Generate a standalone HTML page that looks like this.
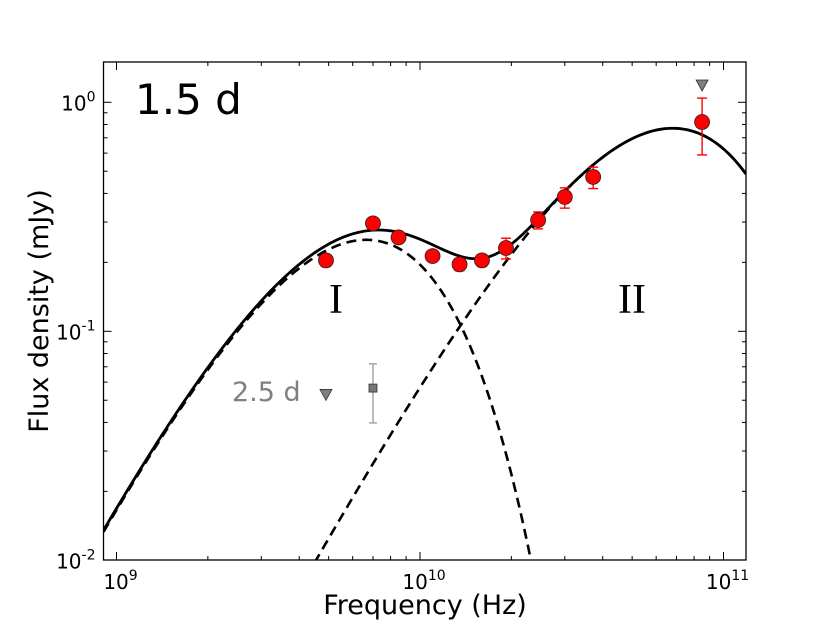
<!DOCTYPE html>
<html><head><meta charset="utf-8">
<style>
html,body{margin:0;padding:0;background:#fff;width:830px;height:623px;overflow:hidden;position:relative;}
svg{display:block;font-family:"DejaVu Sans","Liberation Sans",sans-serif;}
</style></head>
<body>
<svg id="chart" style="position:absolute;left:0;top:0" width="830" height="623" viewBox="0 0 830 623" xmlns="http://www.w3.org/2000/svg">
<rect x="0" y="0" width="830" height="623" fill="#fff"/>
<g id="plot"></g>
</svg>
<script>
// ---- data (frequency in GHz, flux in mJy) ----
const freqs = [4.9, 7.0, 8.5, 11.0, 13.5, 16.0, 19.2, 24.5, 30.0, 37.2, 85];
const fluxes = [0.204, 0.296, 0.257, 0.213, 0.196, 0.204, 0.231, 0.306, 0.386, 0.472, 0.82];
const errLo = [0.012, 0.010, 0.010, 0.010, 0.012, 0.012, 0.024, 0.026, 0.041, 0.052, 0.231];
const errHi = [0.012, 0.010, 0.010, 0.010, 0.012, 0.012, 0.024, 0.026, 0.037, 0.049, 0.223];
const limFreqs = [85];
const limFluxes = [1.19];
const laterLimFreqs = [4.9];
const laterLimFluxes = [0.053];
const laterFreqs = [7.0];
const laterFluxes = [0.0565];
const laterErrLo = [0.0167];
const laterErrHi = [0.0156];
const xTickExps = [9, 10, 11];
const yTickExps = [0, -1, -2];
// model component parameters: lnA, alpha, k, beta, nu0 (GHz)
const compI = [2.278, 2.6, 3.91, 1.0, 10];
const compII = [2.189, 2.45, 2.45, 1.0, 68];

const L = 103.5, R = 746, T = 62, B = 560;
const xDec = 303.5, x1e9 = 116.5;
const yDec = 229, y1 = 102.3;
function xs(gz){ return x1e9 + (Math.log10(gz*1e9) - 9) * xDec; }
function ys(f){ return y1 - Math.log10(f) * yDec; }
function comp(p, gz){ const u = gz / p[4]; return Math.exp(p[0] + p[1]*Math.log(u) - p[2]*Math.pow(u, p[3])); }

const NS = "http://www.w3.org/2000/svg";
const g = document.getElementById('plot');
function mk(tag, attrs, parent){ const e = document.createElementNS(NS, tag); for (const k in attrs) e.setAttribute(k, attrs[k]); (parent||g).appendChild(e); return e; }

const defs = mk('defs', {});
const cp = mk('clipPath', {id:'clip'}, defs);
mk('rect', {x:L, y:T, width:R-L, height:B-T}, cp);

const fMin = Math.pow(10, (L - x1e9)/xDec), fMax = Math.pow(10, (R - x1e9)/xDec);
function curvePath(fn){
  let d = '';
  for (let i = 0; i <= 400; i++) {
    const lg = Math.log10(fMin) + (Math.log10(fMax) - Math.log10(fMin)) * i / 400;
    const gz = Math.pow(10, lg);
    let v = fn(gz); if (v < 1e-4) v = 1e-4;
    d += (i ? 'L' : 'M') + xs(gz).toFixed(2) + ',' + ys(v).toFixed(2);
  }
  return d;
}
const cg = mk('g', {'clip-path':'url(#clip)'});
let p;
p = mk('path', {d: curvePath(gz => comp(compI, gz)), fill:'none', stroke:'#000', 'stroke-width':2.6, 'stroke-dasharray':'10,6'}, cg);


p = mk('path', {d: curvePath(gz => comp(compII, gz)), fill:'none', stroke:'#000', 'stroke-width':2.6, 'stroke-dasharray':'10,6'}, cg);


p = mk('path', {d: curvePath(gz => comp(compI, gz) + comp(compII, gz)), fill:'none', stroke:'#000', 'stroke-width':2.8}, cg);



for (let i = 0; i < laterFreqs.length; i++) {
  const x = xs(laterFreqs[i]);
  const eb = mk('g', {});
  
  
  const yt = ys(laterFluxes[i] + laterErrHi[i]), yb = ys(laterFluxes[i] - laterErrLo[i]);
  mk('line', {x1:x, x2:x, y1:yt, y2:yb, stroke:'#999', 'stroke-width':1.3}, eb);
  mk('line', {x1:x-4, x2:x+4, y1:yt, y2:yt, stroke:'#999', 'stroke-width':1.3}, eb);
  mk('line', {x1:x-4, x2:x+4, y1:yb, y2:yb, stroke:'#999', 'stroke-width':1.3}, eb);
  mk('rect', {x:x-4, y:ys(laterFluxes[i])-4, width:8, height:8, fill:'#777', stroke:'#333', 'stroke-width':0.8}, eb);
}
function tri(x, y, parent){ return mk('path', {d:`M${x-6},${y-5}L${x+6},${y-5}L${x},${y+6}Z`, fill:'#808080', stroke:'#333', 'stroke-width':0.8}, parent); }
for (let i = 0; i < laterLimFreqs.length; i++) {
  const t = tri(xs(laterLimFreqs[i]), ys(laterLimFluxes[i]));
  
  
}
for (let i = 0; i < limFreqs.length; i++) {
  const t = tri(xs(limFreqs[i]), ys(limFluxes[i]));
  
  
}
for (let i = 0; i < freqs.length; i++) {
  const x = xs(freqs[i]);
  const pg = mk('g', {});
  
  
  const yt = ys(fluxes[i] + errHi[i]), yb = ys(fluxes[i] - errLo[i]);
  mk('line', {x1:x, x2:x, y1:yt, y2:yb, stroke:'#f00', 'stroke-width':1.4}, pg);
  mk('line', {x1:x-5, x2:x+5, y1:yt, y2:yt, stroke:'#f00', 'stroke-width':1.4}, pg);
  mk('line', {x1:x-5, x2:x+5, y1:yb, y2:yb, stroke:'#f00', 'stroke-width':1.4}, pg);
  mk('circle', {cx:x, cy:ys(fluxes[i]), r:7.5, fill:'#f00', stroke:'#222', 'stroke-width':0.8}, pg);
}

const fr = mk('rect', {x:L, y:T, width:R-L, height:B-T, fill:'none', stroke:'#000', 'stroke-width':1.3});



for (let e = 8; e <= 11; e++) {
  for (let m = 1; m <= 9; m++) {
    const x = x1e9 + (e - 9 + Math.log10(m)) * xDec;
    if (x < L || x > R) continue;
    const len = m === 1 ? 8 : 4;
    mk('line', {x1:x, x2:x, y1:B, y2:B-len, stroke:'#000', 'stroke-width':1});
    mk('line', {x1:x, x2:x, y1:T, y2:T+len, stroke:'#000', 'stroke-width':1});
  }
}
for (let e = -3; e <= 0; e++) {
  for (let m = 1; m <= 9; m++) {
    const y = y1 - (e + Math.log10(m)) * yDec;
    if (y < T || y > B) continue;
    const len = m === 1 ? 8 : 4;
    mk('line', {x1:L, x2:L+len, y1:y, y2:y, stroke:'#000', 'stroke-width':1});
    mk('line', {x1:R, x2:R-len, y1:y, y2:y, stroke:'#000', 'stroke-width':1});
  }
}
xTickExps.forEach(e => {
  const x = x1e9 + (e - 9) * xDec;
  const t = mk('text', {x:x+4, y:B+29, 'font-size':20, 'text-anchor':'middle'});
  
  
  t.innerHTML = `10<tspan dy="-9" font-size="14">${e}</tspan>`;
});
yTickExps.forEach(e => {
  const y = y1 - e * yDec;
  const t = mk('text', {x:L-8, y:y+8, 'font-size':20, 'text-anchor':'end'});
  
  
  t.innerHTML = `10<tspan dy="-9" font-size="14">${e}</tspan>`;
});
</script>
<svg style="position:absolute;left:0;top:0" width="830" height="623" viewBox="0 0 830 623" xmlns="http://www.w3.org/2000/svg" font-family="DejaVu Sans, Liberation Sans, sans-serif">
<text x="135" y="114" font-size="42">1.5 d</text>
<text x="336" y="313" font-size="42" font-family="Liberation Serif, serif" text-anchor="middle">I</text>
<text x="632" y="313" font-size="42" font-family="Liberation Serif, serif" text-anchor="middle">II</text>
<text x="232" y="401" font-size="27" fill="#808080">2.5 d</text>
<text x="425" y="614" font-size="27" text-anchor="middle">Frequency (Hz)</text>
<text transform="translate(48,311) rotate(-90)" font-size="27" text-anchor="middle">Flux density (mJy)</text>
</svg>
</body></html>
